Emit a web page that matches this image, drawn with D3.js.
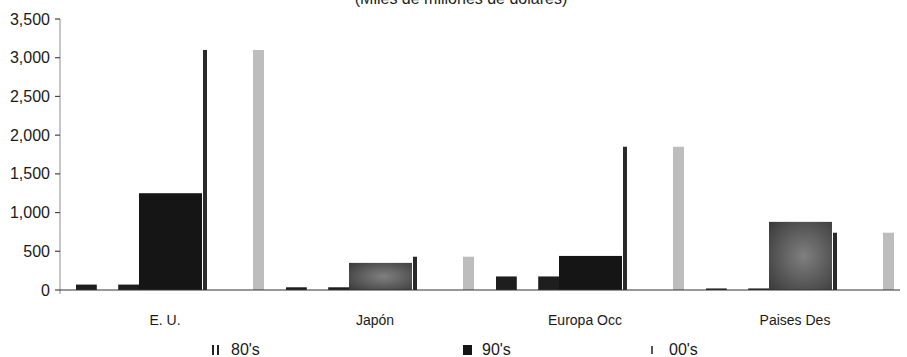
<!DOCTYPE html>
<html>
<head>
<meta charset="utf-8">
<script src="https://cdn.jsdelivr.net/npm/d3@7/dist/d3.min.js"></script>
<style>
  html, body { margin: 0; padding: 0; background: #fff; }
  svg { display: block; font-family: "Liberation Sans", Arial, sans-serif; }
</style>
</head>
<body>
<svg id="chart" width="907" height="357"></svg>
<script>
// Regions and decades
const categories = ["E. U.", "Japón", "Europa Occ", "Paises Des"];
const series = ["80's", "90's", "00's"];

// Values in miles de millones de dólares
const values80 = [70, 35, 175, 20];
const values90 = [1250, 350, 440, 880];
const values00 = [3100, 430, 1850, 740];

const yTicks = [0, 500, 1000, 1500, 2000, 2500, 3000, 3500];
const title = "(Miles de millones de dólares)";

const svg = d3.select("#chart");
const plot = { left: 60, right: 900, top: 19, bottom: 290 };

const x0 = d3.scaleBand().domain(categories).range([plot.left, plot.right]).padding(0);
const x1 = d3.scaleBand().domain(series).range([16, 205]).padding(0);
const y = d3.scaleLinear().domain([0, 3500]).range([plot.bottom, plot.top]);

// 90's shading: the middle two regions print lighter than the others
const defs = svg.append("defs");
const grad = defs.append("radialGradient").attr("id", "mottle")
  .attr("cx", "55%").attr("cy", "50%").attr("r", "75%");
grad.append("stop").attr("offset", "0%").attr("stop-color", "#808080");
grad.append("stop").attr("offset", "100%").attr("stop-color", "#383838");
const fill90 = { "E. U.": "#151515", "Japón": "url(#mottle)", "Europa Occ": "#151515", "Paises Des": "url(#mottle)" };

// Title (partially above the frame)
svg.append("text")
  .attr("x", 461).attr("y", 4)
  .attr("text-anchor", "middle")
  .attr("font-size", 16)
  .attr("fill", "#222")
  .text(title);

// Y axis
const yAxis = svg.append("g").attr("transform", `translate(${plot.left},0)`);
yAxis.append("line")
  .attr("x1", 0).attr("x2", 0)
  .attr("y1", y(3500)).attr("y2", y(0) + 4)
  .attr("stroke", "#a0a0a0").attr("stroke-width", 1.2);
yAxis.selectAll("line.tick").data(yTicks).join("line")
  .attr("class", "tick")
  .attr("x1", -5).attr("x2", 0)
  .attr("y1", d => y(d)).attr("y2", d => y(d))
  .attr("stroke", "#444").attr("stroke-width", 1.2);
yAxis.selectAll("text").data(yTicks).join("text")
  .attr("x", -10).attr("y", d => y(d))
  .attr("dy", "0.35em")
  .attr("text-anchor", "end")
  .attr("font-size", 16)
  .attr("fill", "#1a1a1a")
  .text(d => d3.format(",")(d));

// Bars
const groups = svg.append("g").selectAll("g").data(categories).join("g")
  .attr("transform", d => `translate(${x0(d)},0)`);

groups.each(function(cat, i) {
  const g = d3.select(this);
  const bw = x1.bandwidth();

  // 80's: open bars printed as two dark side strips
  const v80 = values80[i];
  const ax = x1("80's");
  const sw = bw * 0.33;
  g.append("rect")
    .attr("x", ax).attr("y", y(v80))
    .attr("width", bw).attr("height", y(0) - y(v80))
    .attr("fill", "#fff");
  g.append("rect")
    .attr("x", ax).attr("y", y(v80))
    .attr("width", sw).attr("height", y(0) - y(v80))
    .attr("fill", "#1e1e1e");
  g.append("rect")
    .attr("x", ax + bw - sw).attr("y", y(v80))
    .attr("width", sw).attr("height", y(0) - y(v80))
    .attr("fill", "#1e1e1e");

  // 90's: solid bars
  const v90 = values90[i];
  g.append("rect")
    .attr("x", x1("90's")).attr("y", y(v90))
    .attr("width", bw).attr("height", y(0) - y(v90))
    .attr("fill", fill90[cat]);

  // 00's: open bars, dark left edge and grey right edge
  const v00 = values00[i];
  const bx = x1("00's");
  g.append("rect")
    .attr("x", bx).attr("y", y(v00))
    .attr("width", bw).attr("height", y(0) - y(v00))
    .attr("fill", "#fff");
  g.append("rect")
    .attr("x", bx + 1).attr("y", y(v00))
    .attr("width", 4).attr("height", y(0) - y(v00))
    .attr("fill", "#2a2a2a");
  g.append("rect")
    .attr("x", bx + bw - 12).attr("y", y(v00))
    .attr("width", 11).attr("height", y(0) - y(v00))
    .attr("fill", "#bdbdbd");
});

// X axis baseline
svg.append("line")
  .attr("x1", plot.left).attr("x2", plot.right)
  .attr("y1", y(0)).attr("y2", y(0))
  .attr("stroke", "#333").attr("stroke-width", 1.2);

// Category labels
svg.append("g").selectAll("text").data(categories).join("text")
  .attr("x", d => x0(d) + x0.bandwidth() / 2)
  .attr("y", 325)
  .attr("text-anchor", "middle")
  .attr("font-size", 14)
  .attr("fill", "#1a1a1a")
  .text(d => d);

// Legend
const legendX = { "80's": 212, "90's": 463, "00's": 650 };
const legend = svg.append("g");
series.forEach(s => {
  const lx = legendX[s];
  if (s === "80's") {
    legend.append("rect").attr("x", lx).attr("y", 345).attr("width", 2).attr("height", 10).attr("fill", "#222");
    legend.append("rect").attr("x", lx + 5).attr("y", 345).attr("width", 2).attr("height", 10).attr("fill", "#222");
  } else if (s === "90's") {
    legend.append("rect").attr("x", lx).attr("y", 345).attr("width", 9).attr("height", 10)
      .attr("fill", "#151515");
  } else {
    legend.append("rect").attr("x", lx + 1).attr("y", 346).attr("width", 2).attr("height", 8)
      .attr("fill", "#555");
  }
  legend.append("text")
    .attr("x", lx + 19).attr("y", 355)
    .attr("font-size", 16)
    .attr("fill", "#1a1a1a")
    .text(s);
});
</script>
</body>
</html>
